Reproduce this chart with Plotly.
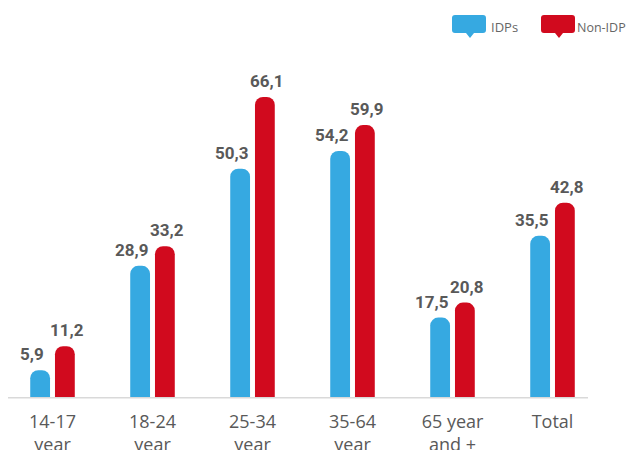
import plotly.graph_objects as go

categories = ["14-17<br>year", "18-24<br>year", "25-34<br>year", "35-64<br>year", "65 year<br>and +", "Total"]
idps = [5.9, 28.9, 50.3, 54.2, 17.5, 35.5]
non_idp = [11.2, 33.2, 66.1, 59.9, 20.8, 42.8]
series_names = ["IDPs", "Non-IDP"]

BLUE = "#36A9E1"
RED = "#D10A1E"
GRAY = "#595959"
W, H = 635, 450
OFF = 8  # page body has an 8px margin

def fmt(v):
    return f"{v:.1f}".replace(".", ",")

fig = go.Figure()
series = [(series_names[0], idps, BLUE, -21), (series_names[1], non_idp, RED, 14)]
for name, vals, col, shift in series:
    fig.add_trace(go.Bar(
        x=categories, y=vals, name=name,
        marker=dict(color=col, cornerradius=8, line=dict(width=0)),
        cliponaxis=False, showlegend=False,
    ))
    for c, v in zip(categories, vals):
        fig.add_annotation(x=c, y=v, text=fmt(v), showarrow=False,
                           xanchor="center", yanchor="bottom",
                           xshift=shift, yshift=4,
                           font=dict(family="Roboto", size=17, color=GRAY, weight="bold"))

def px(x):
    return (x - OFF) / W

def py(y):
    return (H - (y - OFF)) / H

# axis baseline
fig.add_shape(type="line", xref="paper", yref="paper",
              x0=px(8), x1=px(588), y0=py(397.7), y1=py(397.7),
              line=dict(color="#D9D9D9", width=1.5))

# speech-bubble legend
def bubble(x0, col):
    x1 = x0 + 34
    y0, y1 = 15, 33
    r = 3
    tip = x0 + 18
    path = (f"M {px(x0+r)},{py(y0)} L {px(x1-r)},{py(y0)} Q {px(x1)},{py(y0)} {px(x1)},{py(y0+r)} "
            f"L {px(x1)},{py(y1-r)} Q {px(x1)},{py(y1)} {px(x1-r)},{py(y1)} "
            f"L {px(tip+4)},{py(y1)} L {px(tip)},{py(y1+5)} L {px(tip-4)},{py(y1)} "
            f"L {px(x0+r)},{py(y1)} Q {px(x0)},{py(y1)} {px(x0)},{py(y1-r)} "
            f"L {px(x0)},{py(y0+r)} Q {px(x0)},{py(y0)} {px(x0+r)},{py(y0)} Z")
    fig.add_shape(type="path", xref="paper", yref="paper", path=path,
                  fillcolor=col, line=dict(width=0))

bubble(452, BLUE)
bubble(541, RED)
fig.add_annotation(xref="paper", yref="paper", x=px(489), y=py(27), text=series_names[0],
                   showarrow=False, xanchor="left", yanchor="middle",
                   font=dict(family="Open Sans", size=13, color="#666666"))
fig.add_annotation(xref="paper", yref="paper", x=px(575), y=py(27), text=series_names[1],
                   showarrow=False, xanchor="left", yanchor="middle",
                   font=dict(family="Open Sans", size=12.5, color="#666666"))

fig.update_layout(
    width=W, height=H,
    margin=dict(l=0, r=0, t=0, b=0, autoexpand=False),
    paper_bgcolor="white", plot_bgcolor="white",
    barmode="group", bargap=0.505, bargroupgap=0.2,
    xaxis=dict(domain=[px(8), px(603)], range=[-0.445, 5.505], automargin=False,
               showgrid=False, showline=False, zeroline=False,
               ticks="", tickfont=dict(family="Open Sans", size=18, color=GRAY),
               ticklabelstandoff=12),
    yaxis=dict(domain=[py(397), py(56.5)], range=[0, 75], visible=False,
               automargin=False, showgrid=False, zeroline=False),
)

fig.write_html("out.html")
